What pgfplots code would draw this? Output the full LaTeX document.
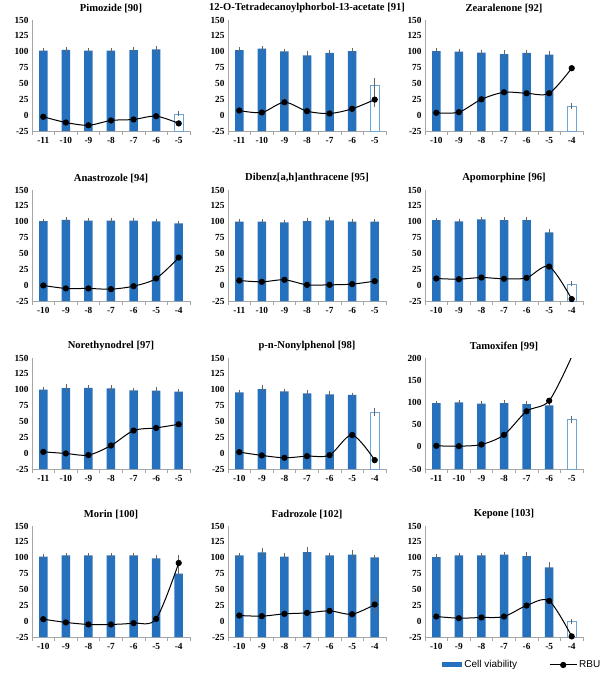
\documentclass[border=0pt]{standalone}
\usepackage{fontspec}
\setmainfont{Liberation Serif}
\newfontfamily\arial{Liberation Sans}
\usepackage{pgfplots}
\pgfplotsset{compat=1.18}
\definecolor{barblue}{RGB}{38,113,189}
\definecolor{barline}{RGB}{110,165,215}
\pgfplotsset{
 panel/.style={
  scale only axis, width=158pt, height=111pt, anchor=south west,
  axis lines=left, axis line style={-, draw=gray!70, line width=0.7pt},
  ymin=-25, ymax=150, ytick={-25,0,25,50,75,100,125,150},
  yticklabels={-25,0,25,50,75,100,125,150},
  y coord trafo/.code={\pgfmathparse{##1+25}},
  y coord inv trafo/.code={\pgfmathparse{##1-25}},
  major tick length=0pt, minor tick length=3.5pt, tick align=outside,
  minor x tick style={draw=gray!70, line width=0.7pt},
  tick label style={font=\bfseries\fontsize{9.3}{10}\selectfont},
  xticklabel style={yshift=-3pt},
  title style={font=\bfseries\fontsize{10.6}{12}\selectfont, yshift=-2pt},
  clip mode=individual,
 },
 cats11/.style={xmin=-11.5,xmax=-4.5, xtick={-11,-10,-9,-8,-7,-6,-5}, xticklabels={-11,-10,-9,-8,-7,-6,-5}, minor xtick={-11.5,-10.5,-9.5,-8.5,-7.5,-6.5,-5.5,-4.5}},
 cats10/.style={xmin=-10.5,xmax=-3.5, xtick={-10,-9,-8,-7,-6,-5,-4}, xticklabels={-10,-9,-8,-7,-6,-5,-4}, minor xtick={-10.5,-9.5,-8.5,-7.5,-6.5,-5.5,-4.5,-3.5}},
 eb/.style={error bars/y dir=both, error bars/y explicit,
   error bars/error bar style={gray!80!black, line width=0.5pt},
   error bars/error mark options={gray!80!black, line width=0.5pt, mark size=1.8pt}},
 cv/.style={ybar, bar width=8.5pt, bar shift=0pt, fill=barblue, draw=none, eb},
 cvw/.style={ybar, bar width=8.5pt, bar shift=0pt, fill=white, draw=barline, line width=0.6pt, eb},
 rbu/.style={black, line width=1pt, smooth, mark=*, mark size=2.6pt, mark options={fill=black, solid}, eb},
}
\begin{document}
\begin{tikzpicture}
\path[use as bounding box] (0pt,0pt) rectangle (608pt,-680pt);
% Row 1
\begin{axis}[panel, cats11, at={(32pt,-131pt)}, title={Pimozide [90]}]
\addplot[cv] coordinates {(-11,101.6)+-(0,1.5) (-10,103)+-(0,1.5) (-9,101.6)+-(0,2) (-8,101.6)+-(0,2) (-7,102.6)+-(0,2.5) (-6,103.7)+-(0,2.5)};
\addplot[cvw] coordinates {(-5,2)+-(0,1)};
\addplot[rbu] coordinates {(-11,-2.6) (-10,-11.6) (-9,-16) (-8,-8.4) (-7,-6.8) (-6,-1.6) (-5,-13)};
\end{axis}
\begin{axis}[panel, cats11, at={(228pt,-131pt)}, title={12-O-Tetradecanoylphorbol-13-acetate [91]}]
\addplot[cv] coordinates {(-11,102.6)+-(0,1.5) (-10,104.7)+-(0,1.5) (-9,100.5)+-(0,1) (-8,94.3)+-(0,4) (-7,98)+-(0,2) (-6,101)+-(0,1.5)};
\addplot[cvw] coordinates {(-5,46.4)+-(0,10)};
\addplot[rbu] coordinates {(-11,7.3)+-(0,2) (-10,4.2)+-(0,2) (-9,20.3)+-(0,8) (-8,6.3)+-(0,3) (-7,2.6)+-(0,2) (-6,10)+-(0,5) (-5,24.5)+-(0,9)};
\end{axis}
\begin{axis}[panel, cats10, at={(425pt,-131pt)}, title={Zearalenone [92]}]
\addplot[cv] coordinates {(-10,101)+-(0,2) (-9,100)+-(0,2) (-8,98.4)+-(0,2) (-7,96.3)+-(0,3) (-6,98)+-(0,1.5) (-5,95.3)+-(0,3)};
\addplot[cvw] coordinates {(-4,14.7)+-(0,2)};
\addplot[rbu] coordinates {(-10,3.7) (-9,4.7) (-8,25) (-7,36) (-6,34.5) (-5,34.5) (-4,74)};
\end{axis}
% Row 2
\begin{axis}[panel, cats10, at={(32pt,-301pt)}, title={Anastrozole [94]}]
\addplot[cv] coordinates {(-10,101)+-(0,1) (-9,103)+-(0,1.5) (-8,101.6)+-(0,1) (-7,101.6)+-(0,2) (-6,101.6)+-(0,1.5) (-5,100.5)+-(0,1.5) (-4,97.4)+-(0,1.5)};
\addplot[rbu] coordinates {(-10,-0.5) (-9,-5.2) (-8,-5.2) (-7,-6.3) (-6,-1.6) (-5,10.5) (-4,43.5)};
\end{axis}
\begin{axis}[panel, cats11, at={(228pt,-301pt)}, title={Dibenz[a,h]anthracene [95]}]
\addplot[cv] coordinates {(-11,100)+-(0,1.5) (-10,100)+-(0,1.5) (-9,99)+-(0,1.5) (-8,101)+-(0,2) (-7,102)+-(0,3) (-6,100)+-(0,1.5) (-5,100)+-(0,1.5)};
\addplot[rbu] coordinates {(-11,7.3) (-10,5.2) (-9,8.4) (-8,0.5) (-7,0.5) (-6,1.6) (-5,6.3)};
\end{axis}
\begin{axis}[panel, cats10, at={(425pt,-301pt)}, title={Apomorphine [96]}]
\addplot[cv] coordinates {(-10,102.6)+-(0,1) (-9,100.5)+-(0,1) (-8,103.7)+-(0,1.5) (-7,102.6)+-(0,1.5) (-6,102.6)+-(0,1.5) (-5,83.2)+-(0,3)};
\addplot[cvw] coordinates {(-4,2)+-(0,1)};
\addplot[rbu] coordinates {(-10,10.5) (-9,9.4) (-8,12) (-7,10) (-6,11.5) (-5,29.3) (-4,-22)};
\end{axis}
% Row 3
\begin{axis}[panel, cats11, at={(32pt,-469pt)}, title={Norethynodrel [97]}]
\addplot[cv] coordinates {(-11,100)+-(0,2) (-10,102.6)+-(0,3) (-9,103)+-(0,1) (-8,102)+-(0,2) (-7,99)+-(0,1) (-6,98.4)+-(0,3) (-5,96.9)+-(0,2)};
\addplot[rbu] coordinates {(-11,2) (-10,-0.5) (-9,-3) (-8,12) (-7,35.6) (-6,39.8) (-5,45.5)};
\end{axis}
\begin{axis}[panel, cats10, at={(228pt,-469pt)}, title={p-n-Nonylphenol [98]}]
\addplot[cv] coordinates {(-10,95.8)+-(0,1) (-9,101)+-(0,4) (-8,97.4)+-(0,1) (-7,94.3)+-(0,3) (-6,92.7)+-(0,3) (-5,91.7)+-(0,1)};
\addplot[cvw] coordinates {(-4,65.1)+-(0,3)};
\addplot[rbu] coordinates {(-10,1.6) (-9,-3.6) (-8,-7.3) (-7,-4.7) (-6,-3.1) (-5,28.6) (-4,-11)};
\end{axis}
\begin{axis}[panel, cats11, at={(425pt,-469pt)}, title={Tamoxifen [99]},
  ymin=-50, ymax=200, ytick={-50,0,50,100,150,200}, yticklabels={-50,0,50,100,150,200},
  y coord trafo/.code={\pgfmathparse{#1+50}}, y coord inv trafo/.code={\pgfmathparse{#1-50}},
  clip mode=global]
\addplot[cv] coordinates {(-11,98.5)+-(0,1.5) (-10,100)+-(0,2) (-9,97)+-(0,2) (-8,98.5)+-(0,3) (-7,96.3)+-(0,3) (-6,93.3)+-(0,3)};
\addplot[cvw] coordinates {(-5,61)+-(0,4)};
\addplot[rbu] coordinates {(-11,2.2) (-10,1.5) (-9,5.2) (-8,26.9) (-7,80) (-6,103.7) (-5,203)};
\end{axis}
% Row 4
\begin{axis}[panel, cats10, at={(32pt,-637pt)}, title={Morin [100]}]
\addplot[cv] coordinates {(-10,101.6)+-(0,1) (-9,103.6)+-(0,1) (-8,103.6)+-(0,1) (-7,103.6)+-(0,1) (-6,103.6)+-(0,1) (-5,99)+-(0,2) (-4,75)+-(0,3)};
\addplot[rbu] coordinates {(-10,3.1) (-9,-2) (-8,-5.2) (-7,-5.2) (-6,-3.1) (-5,3.6) (-4,91.7)+-(0,9)};
\end{axis}
\begin{axis}[panel, cats10, at={(228pt,-637pt)}, title={Fadrozole [102]}]
\addplot[cv] coordinates {(-10,103.7)+-(0,1.5) (-9,108.4)+-(0,4) (-8,101.6)+-(0,3) (-7,109)+-(0,5) (-6,103.7)+-(0,1.5) (-5,104.7)+-(0,5) (-4,100.5)+-(0,1)};
\addplot[rbu] coordinates {(-10,8.9) (-9,7.9) (-8,11.5) (-7,13) (-6,16.2) (-5,11) (-4,26.2)+-(0,10)};
\end{axis}
\begin{axis}[panel, cats10, at={(425pt,-637pt)}, title={Kepone [103]},
  legend style={at={(0.09,-0.252)}, anchor=west, draw=none, fill=none, legend columns=2,
    font=\arial\fontsize{10}{11}\selectfont, /tikz/every even column/.append style={column sep=30pt}},
  legend cell align=left]
\addplot[cv, legend image code/.code={\fill[barblue] (0pt,-2.5pt) rectangle (20pt,2.5pt);}] coordinates {(-10,101)+-(0,1.5) (-9,103.6)+-(0,1.5) (-8,103.6)+-(0,1.5) (-7,104.7)+-(0,1) (-6,102.6)+-(0,3) (-5,84.8)+-(0,6)};
\addlegendentry{Cell viability}
\addplot[cvw, forget plot] coordinates {(-4,0)+-(0,1)};
\addplot[rbu, legend image code/.code={\draw[black, line width=1pt] (0pt,0pt) -- (27pt,0pt); \fill[black] (13.5pt,0pt) circle (2.6pt);}] coordinates {(-10,7.3) (-9,4.7) (-8,5.8) (-7,7.3) (-6,24.6) (-5,31.9) (-4,-24)};
\addlegendentry{RBU}
\end{axis}
\end{tikzpicture}
\end{document}
